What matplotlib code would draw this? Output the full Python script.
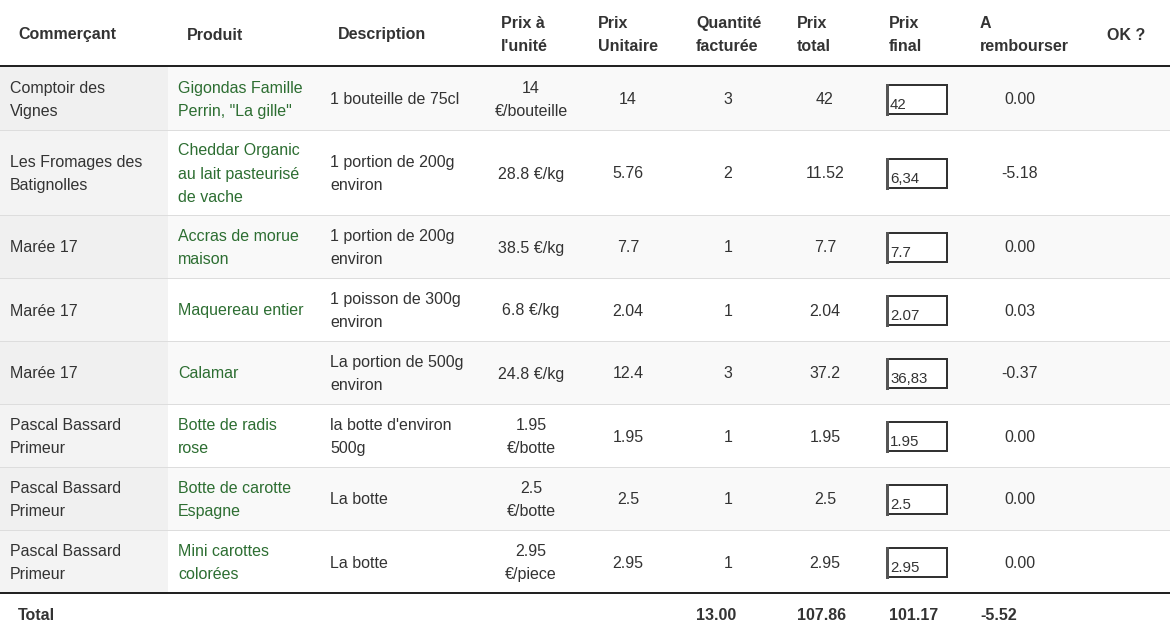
#!/usr/bin/env python3
"""Refund table (commande vs facture) drawn as a matplotlib figure."""

import matplotlib.pyplot as plt
from matplotlib.patches import Rectangle

plt.rcParams["font.family"] = ["Liberation Sans", "DejaVu Sans"]

# ---- data -----------------------------------------------------------------
headers = ["Commerçant", "Produit", "Description", "Prix à\nl'unité",
           "Prix\nUnitaire", "Quantité\nfacturée", "Prix\ntotal",
           "Prix\nfinal", "A\nrembourser", "OK ?"]

commercants = ["Comptoir des\nVignes", "Les Fromages des\nBatignolles",
               "Marée 17", "Marée 17", "Marée 17",
               "Pascal Bassard\nPrimeur", "Pascal Bassard\nPrimeur",
               "Pascal Bassard\nPrimeur"]
produits = ["Gigondas Famille\nPerrin, \"La gille\"",
            "Cheddar Organic\nau lait pasteurisé\nde vache",
            "Accras de morue\nmaison", "Maquereau entier", "Calamar",
            "Botte de radis\nrose", "Botte de carotte\nEspagne",
            "Mini carottes\ncolorées"]
descriptions = ["1 bouteille de 75cl", "1 portion de 200g\nenviron",
                "1 portion de 200g\nenviron", "1 poisson de 300g\nenviron",
                "La portion de 500g\nenviron", "la botte d'environ\n500g",
                "La botte", "La botte"]
prix_unite = ["14\n€/bouteille", "28.8 €/kg", "38.5 €/kg", "6.8 €/kg",
              "24.8 €/kg", "1.95\n€/botte", "2.5\n€/botte", "2.95\n€/piece"]
prix_unitaire = [14, 5.76, 7.7, 2.04, 12.4, 1.95, 2.5, 2.95]
quantite = [3, 2, 1, 1, 3, 1, 1, 1]
prix_total = [42, 11.52, 7.7, 2.04, 37.2, 1.95, 2.5, 2.95]
prix_final = ["42", "6,34", "7.7", "2.07", "36,83", "1.95", "2.5", "2.95"]
a_rembourser = [0.00, -5.18, 0.00, 0.03, -0.37, 0.00, 0.00, 0.00]
totaux = ["13.00", "107.86", "101.17", "-5.52"]

# ---- layout (pixels) ------------------------------------------------------
W, H = 1170, 633
PX = 72 / 100                      # points per pixel at dpi 100
FS = 16 * PX                       # 16px text
FS_BOX = 15 * PX
LINE = 23
TXT = "#333333"
GREEN = "#2d6e32"

header_x = [18, 187, 338, 501, 598, 696, 797, 889, 980, 1107]
left_x = [10, 178, 330]
center_x = {"unite": 531, "unitaire": 628, "qte": 728, "total": 825,
            "remb": 1020}
box_x, box_w, box_h = 887, 60, 29
first_col_w = 168
header_bottom = 67


def draw_lines(ax, x, yc, text, ha="left", **kw):
    lines = text.split("\n")
    y0 = yc - (len(lines) - 1) * LINE / 2
    for k, line in enumerate(lines):
        ax.text(x, y0 + k * LINE + 6, line, ha=ha, va="baseline", **kw)


fig = plt.figure(figsize=(W / 100, H / 100), dpi=100)
ax = fig.add_axes([0, 0, 1, 1])
ax.set_xlim(0, W)
ax.set_ylim(H, 0)
ax.axis("off")

# header
for x, h in zip(header_x, headers):
    draw_lines(ax, x, 33.5, h, fontsize=FS, fontweight="bold", color=TXT)

# body rows
top = header_bottom
for i in range(len(commercants)):
    n = max(s.count("\n") + 1 for s in
            (commercants[i], produits[i], descriptions[i], prix_unite[i]))
    n = max(n, 2)
    h = 22 * n + 19
    yc = top + h / 2
    if i % 2 == 0:
        ax.add_patch(Rectangle((0, top), W, h, color="#f9f9f9", lw=0, zorder=0))
    ax.add_patch(Rectangle((0, top), first_col_w, h,
                           color="#f0f0f0" if i % 2 == 0 else "#f3f3f3",
                           lw=0, zorder=0))

    draw_lines(ax, left_x[0], yc, commercants[i], fontsize=FS, color=TXT)
    draw_lines(ax, left_x[1], yc, produits[i], fontsize=FS, color=GREEN)
    draw_lines(ax, left_x[2], yc, descriptions[i], fontsize=FS, color=TXT)
    draw_lines(ax, center_x["unite"], yc, prix_unite[i], ha="center",
               fontsize=FS, color=TXT)
    draw_lines(ax, center_x["unitaire"], yc, f"{prix_unitaire[i]:g}",
               ha="center", fontsize=FS, color=TXT)
    draw_lines(ax, center_x["qte"], yc, f"{quantite[i]}", ha="center",
               fontsize=FS, color=TXT)
    draw_lines(ax, center_x["total"], yc, f"{prix_total[i]:g}", ha="center",
               fontsize=FS, color=TXT)
    draw_lines(ax, center_x["remb"], yc, f"{a_rembourser[i]:.2f}",
               ha="center", fontsize=FS, color=TXT)

    # input box
    by = yc - box_h / 2 + 1
    ax.add_patch(Rectangle((box_x, by), box_w, box_h, facecolor="white",
                           edgecolor="#333333", lw=2 * PX, zorder=2))
    ax.plot([box_x, box_x], [by, by + box_h], color="#555555",
            lw=3 * PX, zorder=3)
    ax.text(box_x + 3, by + box_h - 5, prix_final[i], fontsize=FS_BOX,
            color=TXT, ha="left", va="baseline", zorder=4)

    top += h
    if i < len(commercants) - 1:
        ax.plot([0, W], [top, top], color="#dddddd", lw=1 * PX, zorder=1)

# rules
ax.plot([0, W], [header_bottom - 1, header_bottom - 1], color="#222222",
        lw=2 * PX, zorder=5)
ax.plot([0, W], [top, top], color="#222222", lw=2 * PX, zorder=5)

# total row
ty = top + (H - top) / 2 + 1
draw_lines(ax, header_x[0], ty, "Total", fontsize=FS, fontweight="bold",
           color=TXT)
for x, v in zip(header_x[5:9], totaux):
    draw_lines(ax, x, ty, v, fontsize=FS, fontweight="bold", color=TXT)

fig.savefig("out.png", dpi=100)
plt.close(fig)
